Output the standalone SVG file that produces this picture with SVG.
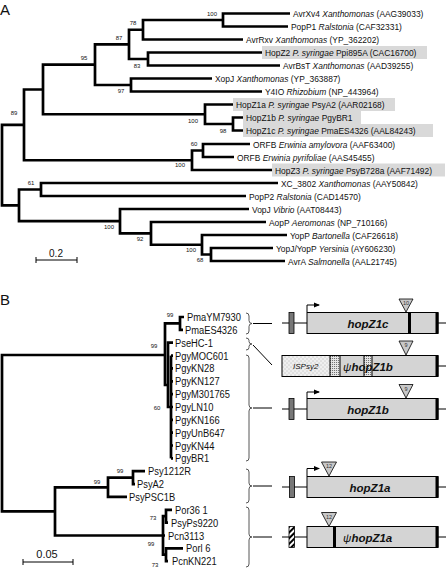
<svg xmlns="http://www.w3.org/2000/svg" width="446" height="568" viewBox="0 0 446 568">
<defs>
<style>
.br{fill:none;stroke:#000;stroke-width:2.7;stroke-linejoin:miter}
.lab{font-family:"Liberation Sans",Arial,sans-serif;font-size:9.8px;fill:#111}
.bs{font-family:"Liberation Sans",Arial,sans-serif;font-size:6px;fill:#111;text-anchor:middle}
.bl{font-family:"Liberation Sans",Arial,sans-serif;font-size:11px;fill:#111}
.pl{font-family:"Liberation Sans",Arial,sans-serif;font-size:15px;fill:#111}
.sc{font-family:"Liberation Sans",Arial,sans-serif;font-size:10px;fill:#111;text-anchor:middle}
.hl{fill:#d9d9d9}
.gene{font-family:"Liberation Sans",Arial,sans-serif;font-size:11.5px;font-weight:bold;font-style:italic;fill:#111}
.gbox{fill:#d4d4d4;stroke:#000;stroke-width:1}
.sbox{fill:#777;stroke:#000;stroke-width:0.8}
.tri{fill:#c8c8c8;stroke:#000;stroke-width:0.8}
.tn{font-family:"Liberation Sans",Arial,sans-serif;font-size:5.5px;fill:#333;text-anchor:middle}
.brace{fill:none;stroke:#444;stroke-width:0.9}
.ln{fill:none;stroke:#000;stroke-width:1}
.bar{fill:#000}
</style>
<pattern id="stip" patternUnits="userSpaceOnUse" width="4" height="4"><rect width="4" height="4" fill="#efefef"/><circle cx="1" cy="1" r="0.45" fill="#777"/><circle cx="3" cy="3" r="0.45" fill="#777"/></pattern>
<pattern id="dense" patternUnits="userSpaceOnUse" width="2" height="2"><rect width="2" height="2" fill="#e6e6e6"/><circle cx="0.6" cy="0.6" r="0.5" fill="#444"/></pattern>
<pattern id="hatch" patternUnits="userSpaceOnUse" width="4" height="4" patternTransform="rotate(45)"><rect width="4" height="4" fill="#fff"/><rect width="2" height="4" fill="#000"/></pattern>
<marker id="ah" markerWidth="6" markerHeight="6" refX="5" refY="3" orient="auto" markerUnits="userSpaceOnUse"><path d="M0,0.5 L6,3 L0,5.5 z" fill="#000"/></marker>
</defs>
<rect width="446" height="568" fill="#fff"/>

<text class="pl" x="0" y="15">A</text>
<text class="pl" x="0" y="305">B</text>

<g id="highlights">
<rect class="hl" x="262" y="46" width="165" height="13"/>
<rect class="hl" x="233" y="98" width="162" height="13"/>
<rect class="hl" x="243" y="111" width="118" height="13"/>
<rect class="hl" x="243" y="124" width="190" height="13"/>
<rect class="hl" x="272" y="163.5" width="173" height="13"/>
</g>

<g id="connectors">
<g id="treeA">
<path class="br" d="M290,13.5 H223 V26.5 H288"/>
<path class="br" d="M223,20 H143 V39.5 H243"/>
<path class="br" d="M262,52.5 H148 V65.5 H280"/>
<path class="br" d="M143,29.75 H129 V59 H148"/>
<path class="br" d="M212,78.5 H131 V91.5 H262"/>
<path class="br" d="M129,44.4 H95 V85 H131"/>
<path class="br" d="M243,117.5 H233 V130.5 H243"/>
<path class="br" d="M233,104.5 H205 V124 H233"/>
<path class="br" d="M95,64.7 H43 V114.25 H205"/>
<path class="br" d="M250,144 H203 V157 H234"/>
<path class="br" d="M203,150.5 H192 V170 H272"/>
<path class="br" d="M43,89.5 H24 V160.25 H192"/>
<path class="br" d="M278,183 H41 V196 H246"/>
<path class="br" d="M273,248 H211 V261 H285"/>
<path class="br" d="M287,235 H202 V254.5 H211"/>
<path class="br" d="M266,222 H151 V244.75 H202"/>
<path class="br" d="M249,209 H120 V233.4 H151"/>
<path class="br" d="M41,189.5 H19 V221.2 H120"/>
<path class="br" d="M24,124.9 H2 V205.35 H19"/>
</g>
<g id="treeB">
<path class="br" d="M184,317 H180 V329.9 H183"/>
<path class="br" d="M171,355.6 V458.4"/>
<path class="br" d="M171,355.6 H173 M171,368.4 H173 M171,381.3 H173 M171,394.1 H173 M171,407 H173 M171,419.8 H173 M171,432.7 H173 M171,445.5 H173 M171,458.4 H173"/>
<path class="br" d="M173,342.7 H168 V407 H171"/>
<path class="br" d="M180,323.4 H165 V385 H168"/>
<path class="br" d="M145,471.2 H133 V484.1 H135"/>
<path class="br" d="M133,477.6 H108 V496.9 H127"/>
<path class="br" d="M172,509.8 H166 V522.6 H168"/>
<path class="br" d="M183,548.3 H166 V561.2 H168"/>
<path class="br" d="M166,516.2 H163 V554.7 H166 M163,535.5 H165"/>
<path class="br" d="M108,487.3 H55 V535.5 H163"/>
<path class="br" d="M165,355 H2 V511.4 H55"/>
</g>
<g id="brace-links">
<path class="ln" d="M253,323.5 H272"/>
<path class="ln" d="M253,345 L272,365"/>
<path class="ln" d="M253,408 H272"/>
<path class="ln" d="M253,486 H272"/>
<path class="ln" d="M253,537 H272"/>
</g>
</g>

<g id="bootstrapA">
<text class="bs" x="212" y="16">100</text>
<text class="bs" x="133" y="25">78</text>
<text class="bs" x="119" y="40">87</text>
<text class="bs" x="137" y="68">83</text>
<text class="bs" x="84" y="60">95</text>
<text class="bs" x="121" y="93">97</text>
<text class="bs" x="193" y="123">100</text>
<text class="bs" x="223" y="133">98</text>
<text class="bs" x="14" y="115">89</text>
<text class="bs" x="194" y="146">60</text>
<text class="bs" x="180" y="167">100</text>
<text class="bs" x="31" y="185">61</text>
<text class="bs" x="109" y="229">100</text>
<text class="bs" x="140" y="241">92</text>
<text class="bs" x="191" y="252">100</text>
<text class="bs" x="200" y="262">68</text>
</g>

<g id="leavesA">
<g id="a1"><text class="lab" transform="translate(293,17) scale(0.86 1)">AvrXv4 <tspan font-style="italic">Xanthomonas</tspan> (AAG39033)</text></g>
<g id="a2"><text class="lab" transform="translate(291,30) scale(0.86 1)">PopP1 <tspan font-style="italic">Ralstonia</tspan> (CAF32331)</text></g>
<g id="a3"><text class="lab" transform="translate(246,43) scale(0.86 1)">AvrRxv <tspan font-style="italic">Xanthomonas</tspan> (YP_362202)</text></g>
<g id="a4"><text class="lab" transform="translate(265,56) scale(0.86 1)">HopZ2 <tspan font-style="italic">P. syringae</tspan> Ppi895A (CAC16700)</text></g>
<g id="a5"><text class="lab" transform="translate(283,69) scale(0.86 1)">AvrBsT <tspan font-style="italic">Xanthomonas</tspan> (AAD39255)</text></g>
<g id="a6"><text class="lab" transform="translate(215,82) scale(0.86 1)">XopJ <tspan font-style="italic">Xanthomonas</tspan> (YP_363887)</text></g>
<g id="a7"><text class="lab" transform="translate(265,95) scale(0.86 1)">Y4IO <tspan font-style="italic">Rhizobium</tspan> (NP_443964)</text></g>
<g id="a8"><text class="lab" transform="translate(236,108) scale(0.86 1)">HopZ1a <tspan font-style="italic">P. syringae</tspan> PsyA2 (AAR02168)</text></g>
<g id="a9"><text class="lab" transform="translate(246,121) scale(0.86 1)">HopZ1b <tspan font-style="italic">P. syringae</tspan> PgyBR1</text></g>
<g id="a10"><text class="lab" transform="translate(246,134) scale(0.86 1)">HopZ1c <tspan font-style="italic">P. syringae</tspan> PmaES4326 (AAL84243)</text></g>
<g id="a11"><text class="lab" transform="translate(253,147.5) scale(0.86 1)">ORFB <tspan font-style="italic">Erwinia amylovora</tspan> (AAF63400)</text></g>
<g id="a12"><text class="lab" transform="translate(237,160.5) scale(0.86 1)">ORFB <tspan font-style="italic">Erwinia pyrifoliae</tspan> (AAS45455)</text></g>
<g id="a13"><text class="lab" transform="translate(275,173.5) scale(0.86 1)">HopZ3 <tspan font-style="italic">P. syringae</tspan> PsyB728a (AAF71492)</text></g>
<g id="a14"><text class="lab" transform="translate(281,186.5) scale(0.86 1)">XC_3802 <tspan font-style="italic">Xanthomonas</tspan> (AAY50842)</text></g>
<g id="a15"><text class="lab" transform="translate(249,199.5) scale(0.86 1)">PopP2 <tspan font-style="italic">Ralstonia</tspan> (CAD14570)</text></g>
<g id="a16"><text class="lab" transform="translate(252,212.5) scale(0.86 1)">VopJ <tspan font-style="italic">Vibrio</tspan> (AAT08443)</text></g>
<g id="a17"><text class="lab" transform="translate(269,225.5) scale(0.86 1)">AopP <tspan font-style="italic">Aeromonas</tspan> (NP_710166)</text></g>
<g id="a18"><text class="lab" transform="translate(290,238.5) scale(0.86 1)">YopP <tspan font-style="italic">Bartonella</tspan> (CAF26618)</text></g>
<g id="a19"><text class="lab" transform="translate(276,251.5) scale(0.86 1)">YopJ/YopP <tspan font-style="italic">Yersinia</tspan> (AY606230)</text></g>
<g id="a20"><text class="lab" transform="translate(288,264.5) scale(0.86 1)">AvrA <tspan font-style="italic">Salmonella</tspan> (AAL21745)</text></g>
</g>

<g id="scaleA">
<path class="ln" d="M36,257 V263 M36,260 H77 M77,257 V263"/>
<text class="sc" x="56" y="256.5">0.2</text>
</g>

<g id="bootstrapB">
<text class="bs" x="170" y="317">99</text>
<text class="bs" x="154" y="348">99</text>
<text class="bs" x="157" y="410">60</text>
<text class="bs" x="120" y="473">99</text>
<text class="bs" x="97" y="484">99</text>
<text class="bs" x="153" y="520">73</text>
<text class="bs" x="151" y="546">99</text>
<text class="bs" x="155" y="567">73</text>
</g>

<g id="leavesB">
<g id="b1"><text class="bl" transform="translate(187,321) scale(0.85 1)">PmaYM7930</text></g>
<g id="b2"><text class="bl" transform="translate(185,333.9) scale(0.85 1)">PmaES4326</text></g>
<g id="b3"><text class="bl" transform="translate(175,346.7) scale(0.85 1)">PseHC-1</text></g>
<g id="b4"><text class="bl" transform="translate(175,359.6) scale(0.85 1)">PgyMOC601</text></g>
<g id="b5"><text class="bl" transform="translate(175,372.4) scale(0.85 1)">PgyKN28</text></g>
<g id="b6"><text class="bl" transform="translate(175,385.3) scale(0.85 1)">PgyKN127</text></g>
<g id="b7"><text class="bl" transform="translate(175,398.1) scale(0.85 1)">PgyM301765</text></g>
<g id="b8"><text class="bl" transform="translate(175,411) scale(0.85 1)">PgyLN10</text></g>
<g id="b9"><text class="bl" transform="translate(175,423.8) scale(0.85 1)">PgyKN166</text></g>
<g id="b10"><text class="bl" transform="translate(175,436.7) scale(0.85 1)">PgyUnB647</text></g>
<g id="b11"><text class="bl" transform="translate(175,449.5) scale(0.85 1)">PgyKN44</text></g>
<g id="b12"><text class="bl" transform="translate(175,462.4) scale(0.85 1)">PgyBR1</text></g>
<g id="b13"><text class="bl" transform="translate(148,475.2) scale(0.85 1)">Psy1212R</text></g>
<g id="b14"><text class="bl" transform="translate(137,488.1) scale(0.85 1)">PsyA2</text></g>
<g id="b15"><text class="bl" transform="translate(129,500.9) scale(0.85 1)">PsyPSC1B</text></g>
<g id="b16"><text class="bl" transform="translate(175,513.8) scale(0.85 1)">Por36 1</text></g>
<g id="b17"><text class="bl" transform="translate(171,526.6) scale(0.85 1)">PsyPs9220</text></g>
<g id="b18"><text class="bl" transform="translate(168,539.5) scale(0.85 1)">Pcn3113</text></g>
<g id="b19"><text class="bl" transform="translate(186,552.3) scale(0.85 1)">Porl 6</text></g>
<g id="b20"><text class="bl" transform="translate(172,565.2) scale(0.85 1)">PcnKN221</text></g>
</g>

<g id="scaleB">
<path class="ln" d="M23,559 V565 M23,562 H73 M73,559 V565"/>
<text class="sc" x="47" y="557.5" style="font-size:11px">0.05</text>
</g>

<g id="braces">
<path class="brace" d="M246,313 Q249,313 249,316 V320.5 Q249,323.5 252,323.5 Q249,323.5 249,326.5 V331 Q249,334 246,334"/>
<path class="brace" d="M246,338 Q249,338 249,340.5 V341.5 Q249,344 252,344 Q249,344 249,346.5 V347.5 Q249,350 246,350"/>
<path class="brace" d="M246,355 Q249,355 249,358 V405 Q249,408 252,408 Q249,408 249,411 V458 Q249,461 246,461"/>
<path class="brace" d="M246,469 Q249,469 249,472 V483 Q249,486 252,486 Q249,486 249,489 V500 Q249,503 246,503"/>
<path class="brace" d="M246,507 Q249,507 249,510 V534 Q249,537 252,537 Q249,537 249,540 V564 Q249,567 246,567"/>
</g>

<g id="gene-hopZ1c">
<path class="ln" d="M282,323 H307 M438,323 H446"/>
<rect class="sbox" x="289" y="312.5" width="5" height="21"/>
<rect class="gbox" x="307" y="312.5" width="131" height="21"/>
<rect class="bar" x="408" y="312.5" width="3" height="21"/>
<rect class="bar" x="435.5" y="312.5" width="3" height="21"/>
<path class="ln" d="M307,312 V305 H319" marker-end="url(#ah)"/>
<polygon class="tri" points="399,299 413,299 406,312"/>
<text class="tn" x="406" y="305">10</text>
<text class="gene" x="368" y="328" text-anchor="middle">hopZ1c</text>
</g>

<g id="gene-psi-hopZ1b">
<path class="ln" d="M438,366 H446"/>
<rect x="282" y="355.5" width="48" height="21" fill="url(#stip)"/>
<rect x="330" y="355.5" width="10" height="21" fill="url(#dense)"/>
<rect x="340" y="355.5" width="24" height="21" fill="#d4d4d4"/>
<rect x="364" y="355.5" width="8" height="21" fill="url(#dense)"/>
<rect x="372" y="355.5" width="66" height="21" fill="#d4d4d4"/>
<path class="ln" d="M330,355.5 V376.5 M340,355.5 V376.5 M364,355.5 V376.5 M372,355.5 V376.5"/>
<rect x="282" y="355.5" width="156" height="21" fill="none" stroke="#000" stroke-width="1"/>
<rect class="bar" x="435.5" y="355.5" width="3" height="21"/>
<polygon class="tri" points="399,341 413,341 406,355"/>
<text class="tn" x="406" y="347">9</text>
<text x="293" y="369" style="font-family:'Liberation Sans',Arial,sans-serif;font-size:8px;font-style:italic;fill:#111">ISPsy2</text>
<text class="gene" x="343" y="371"><tspan font-weight="normal">ψ</tspan>hopZ1b</text>
</g>

<g id="gene-hopZ1b">
<path class="ln" d="M282,409 H307 M438,409 H446"/>
<rect class="sbox" x="289" y="398.5" width="5" height="21"/>
<rect class="gbox" x="307" y="398.5" width="131" height="21"/>
<rect class="bar" x="435.5" y="398.5" width="3" height="21"/>
<path class="ln" d="M307,398 V392 H319" marker-end="url(#ah)"/>
<polygon class="tri" points="399,384.5 413,384.5 406,398"/>
<text class="tn" x="406" y="390.5">9</text>
<text class="gene" x="368" y="414" text-anchor="middle">hopZ1b</text>
</g>

<g id="gene-hopZ1a">
<path class="ln" d="M282,487 H307 M438,487 H446"/>
<rect class="sbox" x="289.5" y="476.5" width="5" height="21"/>
<rect class="gbox" x="307" y="476.5" width="131" height="21"/>
<rect class="bar" x="435.5" y="476.5" width="3" height="21"/>
<path class="ln" d="M307,476 V468.5 H319" marker-end="url(#ah)"/>
<polygon class="tri" points="321.5,462 336.5,462 329,476"/>
<text class="tn" x="329" y="468">12</text>
<text class="gene" x="370" y="491.5" text-anchor="middle">hopZ1a</text>
</g>

<g id="gene-psi-hopZ1a">
<path class="ln" d="M282,537 H307 M438,537 H446"/>
<rect x="289" y="526.5" width="5.5" height="21" fill="url(#hatch)" stroke="#000" stroke-width="0.8"/>
<rect class="gbox" x="307" y="526.5" width="131" height="21"/>
<rect class="bar" x="333" y="526.5" width="3" height="21"/>
<rect class="bar" x="435.5" y="526.5" width="3" height="21"/>
<polygon class="tri" points="321.5,512.5 336.5,512.5 329,526.5"/>
<text class="tn" x="329" y="518.5">12</text>
<text class="gene" x="343" y="541.5"><tspan font-weight="normal">ψ</tspan>hopZ1a</text>
</g>
</svg>
